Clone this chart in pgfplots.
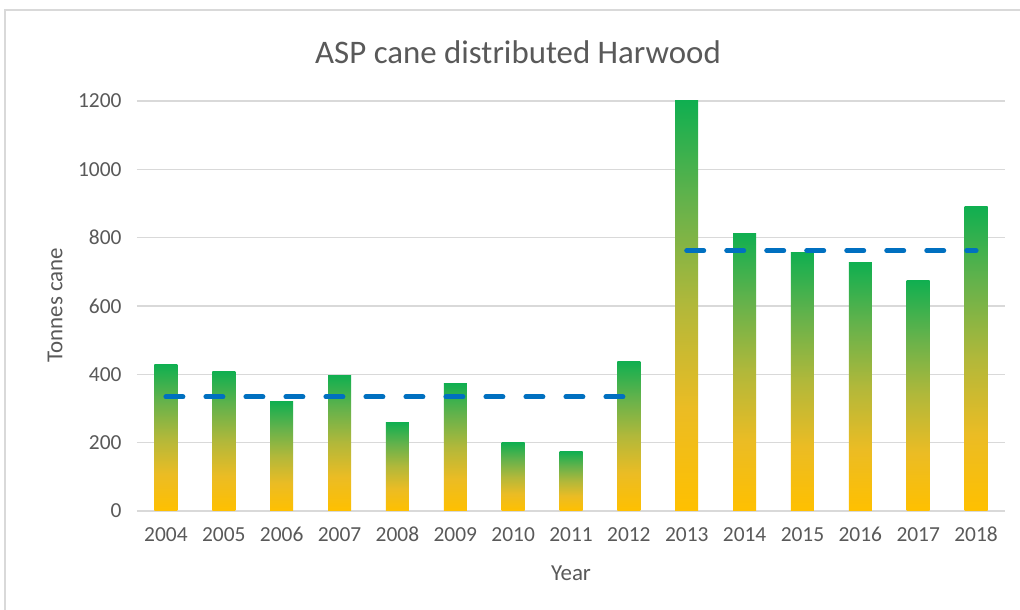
\documentclass[border=0pt]{standalone}
\usepackage{fontspec}
\setmainfont{Carlito}
\usepackage{pgfplots}
\pgfplotsset{compat=1.18}

\definecolor{barYellow}{HTML}{FFC000}
\definecolor{barGold}{HTML}{EBBC24}
\definecolor{barOlive}{HTML}{B2B83A}
\definecolor{barLeaf}{HTML}{66B24B}
\definecolor{barGreen}{HTML}{10AF50}
\definecolor{avgBlue}{HTML}{0070C0}
\definecolor{gridGrey}{HTML}{D9D9D9}
\definecolor{textGrey}{HTML}{595959}

% gold-to-green gradient; the path is fitted to the 25bp--75bp band
\pgfdeclareverticalshading{caneshade}{100bp}{
  color(0bp)=(barYellow); color(25bp)=(barYellow);
  color(37.5bp)=(barGold); color(50bp)=(barOlive);
  color(62.5bp)=(barLeaf); color(75bp)=(barGreen);
  color(100bp)=(barGreen)}

% each bar is its own plot so that the gradient runs over the bar itself
\pgfplotsset{
  cane bar/.style={ybar, bar width=23bp, bar shift=0pt, draw=none,
    shading=caneshade},
  avg line/.style={avgBlue, line width=5bp, line cap=round,
    dash pattern=on 17bp off 23bp},
}

\begin{document}
\begin{tikzpicture}[x=1bp,y=1bp]
% page area and chart frame
\useasboundingbox (-137,-99) rectangle (883,511);
\fill[white] (-137,-99) rectangle (883,511);
\draw[gridGrey, line width=2bp] (-132,-99) -- (-132,501) -- (883,501);

\begin{axis}[
  at={(0,0)}, anchor=south west,
  scale only axis,
  width=868bp, height=410bp,
  xmin=-0.5, xmax=14.5,
  ymin=0, ymax=1200,
  axis line style={draw=none},
  xtick={0,...,14},
  xticklabels={2004,2005,2006,2007,2008,2009,2010,2011,2012,2013,2014,2015,2016,2017,2018},
  ytick={0,200,...,1200},
  major tick length=0pt,
  ymajorgrids,
  grid style={gridGrey, line width=1.5bp},
  /pgf/number format/assume math mode=true,
  /pgf/number format/1000 sep={},
  tick label style={font=\fontsize{21.5}{24}\selectfont, text=textGrey},
  yticklabel style={xshift=-12bp},
  xticklabel style={yshift=-13bp, text height=14bp, text depth=0pt},
  clip=false,
]
% annual tonnes, 2004--2018
\addplot[cane bar] coordinates {(0,428)};
\addplot[cane bar] coordinates {(1,408)};
\addplot[cane bar] coordinates {(2,321)};
\addplot[cane bar] coordinates {(3,398)};
\addplot[cane bar] coordinates {(4,260)};
\addplot[cane bar] coordinates {(5,374)};
\addplot[cane bar] coordinates {(6,200)};
\addplot[cane bar] coordinates {(7,174)};
\addplot[cane bar] coordinates {(8,438)};
\addplot[cane bar] coordinates {(9,1200)};
\addplot[cane bar] coordinates {(10,813)};
\addplot[cane bar] coordinates {(11,757)};
\addplot[cane bar] coordinates {(12,726)};
\addplot[cane bar] coordinates {(13,676)};
\addplot[cane bar] coordinates {(14,890)};
% period averages
\addplot[avg line] coordinates {(0,334) (8,334)};
\addplot[avg line] coordinates {(9,762) (14,762)};
\end{axis}

\node[text=textGrey, font=\fontsize{33}{38}\selectfont] at (381,459) {ASP cane distributed Harwood};
\node[text=textGrey, font=\fontsize{23}{27}\selectfont] at (434,-62) {Year};
\node[text=textGrey, font=\fontsize{23}{27}\selectfont, rotate=90] at (-82,206) {Tonnes cane};
\end{tikzpicture}
\end{document}
